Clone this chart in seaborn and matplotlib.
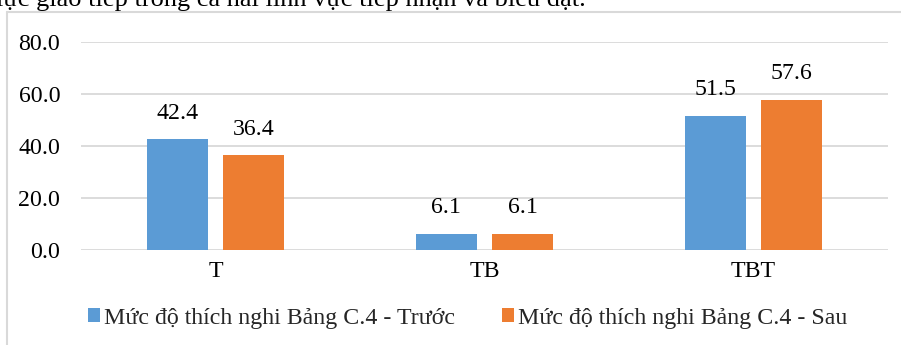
import matplotlib
matplotlib.use("Agg")
import matplotlib.pyplot as plt
from matplotlib.lines import Line2D
from matplotlib.patches import Patch
import seaborn as sns
import pandas as pd

categories = ["T", "TB", "TBT"]
series_names = ["Mức độ thích nghi Bảng C.4 - Trước", "Mức độ thích nghi Bảng C.4 - Sau"]
before_values = [42.4, 6.1, 51.5]
after_values = [36.4, 6.1, 57.6]
y_ticks = [0, 20, 40, 60, 80]
header_text = "lực giao tiếp trong cả hai lĩnh vực tiếp nhận và biểu đạt."

colors = ["#5B9BD5", "#ED7D31"]
grid_color = "#D9D9D9"
fs = 17.2

sns.set_theme(style="white")
plt.rcParams["font.family"] = ["Liberation Serif", "DejaVu Serif"]

df = pd.DataFrame({
    "cat": categories * 2,
    "series": [series_names[0]] * 3 + [series_names[1]] * 3,
    "value": before_values + after_values,
})

fig = plt.figure(figsize=(9.01, 3.45), dpi=100)
ax = fig.add_axes([81 / 901, 95.5 / 345, 807 / 901, 208 / 345])

sns.barplot(data=df, x="cat", y="value", hue="series", hue_order=series_names,
            palette=colors, width=0.57, gap=0.2, saturation=1, ax=ax,
            legend=False, errorbar=None, edgecolor="none")

ax.set_ylim(0, 80)
ax.set_xlim(-0.5, 2.5)
ax.set_yticks(y_ticks)
ax.set_yticklabels([f"{v:.1f}" for v in y_ticks])
ax.yaxis.grid(True, color=grid_color, linewidth=1.3)
ax.set_axisbelow(True)
for s in ax.spines.values():
    s.set_visible(False)
ax.tick_params(axis="both", length=0, labelsize=fs, colors="#000000")
ax.tick_params(axis="y", pad=15)
ax.tick_params(axis="x", pad=8.5)
ax.set_xlabel("")
ax.set_ylabel("")

for cont in ax.containers:
    ax.bar_label(cont, labels=[f"{v:.1f}" for v in cont.datavalues],
                 padding=11, fontsize=fs, color="#000000")

handles = [Patch(facecolor=c, edgecolor="none") for c in colors]
fig.legend(handles, series_names, loc="center", bbox_to_anchor=(0.519, 0.078),
           ncol=2, frameon=False, fontsize=fs, handlelength=0.5,
           handleheight=0.5, handletextpad=0.15, columnspacing=2.0)

# chart area border (top and left visible)
fig.add_artist(Line2D([7 / 901, 1.01], [1 - 12 / 345, 1 - 12 / 345],
                      color=grid_color, linewidth=1.5, transform=fig.transFigure))
fig.add_artist(Line2D([7 / 901, 7 / 901], [-0.01, 1 - 12 / 345],
                      color=grid_color, linewidth=1.5, transform=fig.transFigure))

fig.text(-0.004, 1 - 6 / 345, header_text, fontsize=19, va="baseline",
         ha="left", color="#000000")

fig.savefig("out.png", dpi=100)
